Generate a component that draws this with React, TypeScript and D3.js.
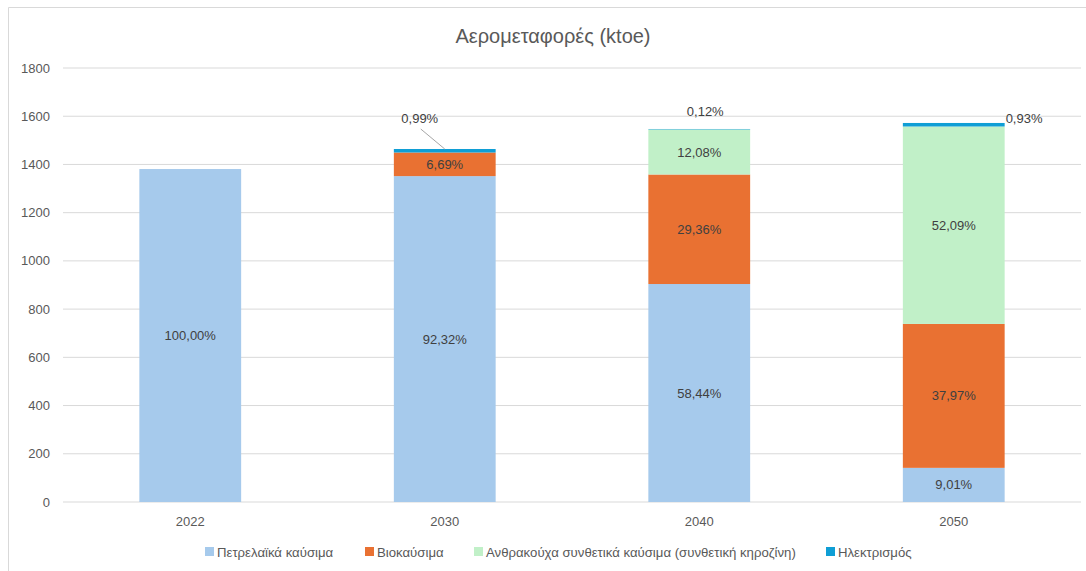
import * as d3 from 'd3';

const years = ['2022', '2030', '2040', '2050'];
const seriesNames = [
    'Πετρελαϊκά καύσιμα',
    'Βιοκαύσιμα',
    'Ανθρακούχα συνθετικά καύσιμα (συνθετική κηροζίνη)',
    'Ηλεκτρισμός',
];
const petroleum = [1381, 1351.6, 904.1, 141.6];
const biofuels = [0, 97.9, 454.2, 596.9];
const synthetic = [0, 0, 186.9, 818.9];
const electricity = [0, 14.5, 1.86, 14.6];
const yTicks = [0, 200, 400, 600, 800, 1000, 1200, 1400, 1600, 1800];

const colors = ['#A6CAEC', '#E97132', '#C1F0C8', '#0F9ED5'];

export default function App() {
    const width = 1086;
    const height = 571;
    const margins = { top: 68, bottom: 69, left: 63, right: 5 };

    const rows = years.map((y, i) => ({
        year: y,
        s0: petroleum[i],
        s1: biofuels[i],
        s2: synthetic[i],
        s3: electricity[i],
    }));
    const keys = ['s0', 's1', 's2', 's3'];
    const stacked = d3.stack<any>().keys(keys)(rows);

    const xScale = d3
        .scaleBand()
        .domain(years)
        .range([margins.left, width - margins.right])
        .paddingInner(0.6)
        .paddingOuter(0.3);

    const yScale = d3
        .scaleLinear()
        .domain([0, 1800])
        .range([height - margins.bottom, margins.top]);

    const fmt = (v: number) => (v * 100).toFixed(2).replace('.', ',') + '%';
    const totals = rows.map((r) => r.s0 + r.s1 + r.s2 + r.s3);
    const font = '"Liberation Sans", Arial, sans-serif';
    const textColor = '#595959';

    return (
        <svg width={width} height={height} style={{ position: 'absolute', left: 0, top: 0 }} fontFamily={font}>
            <rect x={0} y={0} width={width} height={height} fill='#fff' />
            <path d={`M8.5,${height} V7.5 H${width}`} fill='none' stroke='#d9d9d9' />
            <text x={553} y={43} textAnchor='middle' fontSize={20} fill={textColor}>
                Αερομεταφορές (ktoe)
            </text>

            {yTicks.map((t) => (
                <g key={t} transform={`translate(0, ${yScale(t)})`}>
                    <line x1={margins.left} x2={width - margins.right} stroke='#d9d9d9' strokeWidth={1} />
                    <text x={50} dy='0.35em' textAnchor='end' fontSize={13} fill={textColor}>
                        {t}
                    </text>
                </g>
            ))}

            {stacked.map((layer, li) => (
                <g key={li} fill={colors[li]}>
                    {layer.map((d, i) =>
                        d[1] - d[0] > 0 ? (
                            <rect
                                key={i}
                                x={xScale(years[i]) as number}
                                y={yScale(d[1])}
                                width={xScale.bandwidth()}
                                height={yScale(d[0]) - yScale(d[1])}
                            />
                        ) : null
                    )}
                </g>
            ))}

            {/* labels inside segments (big ones) */}
            {stacked.slice(0, 3).map((layer, li) =>
                layer.map((d, i) => {
                    const v = d[1] - d[0];
                    if (v <= 0) return null;
                    const cx = (xScale(years[i]) as number) + xScale.bandwidth() / 2;
                    const cy = (yScale(d[0]) + yScale(d[1])) / 2;
                    return (
                        <text key={`${li}-${i}`} x={cx} y={cy} dy='0.35em' textAnchor='middle' fontSize={13} fill='#404040'>
                            {fmt(v / totals[i])}
                        </text>
                    );
                })
            )}

            {/* electricity labels, placed above the bars */}
            {stacked[3].map((d, i) => {
                const v = d[1] - d[0];
                if (v <= 0) return null;
                const x0 = xScale(years[i]) as number;
                const cx = x0 + xScale.bandwidth() / 2;
                const top = yScale(d[1]);
                const label = fmt(v / totals[i]);
                if (i === 1) {
                    return (
                        <g key={i}>
                            <line x1={cx - 24} y1={top - 20} x2={cx} y2={top} stroke='#a6a6a6' />
                            <text x={cx - 25} y={top - 26} textAnchor='middle' fontSize={13} fill='#404040'>
                                {label}
                            </text>
                        </g>
                    );
                }
                if (i === 2) {
                    return (
                        <text key={i} x={cx + 6} y={top - 13} textAnchor='middle' fontSize={13} fill='#404040'>
                            {label}
                        </text>
                    );
                }
                return (
                    <text key={i} x={x0 + xScale.bandwidth() + 1} y={top} textAnchor='start' fontSize={13} fill='#404040'>
                        {label}
                    </text>
                );
            })}

            {years.map((y) => (
                <text
                    key={y}
                    x={(xScale(y) as number) + xScale.bandwidth() / 2}
                    y={height - margins.bottom + 24}
                    textAnchor='middle'
                    fontSize={13}
                    fill={textColor}
                >
                    {y}
                </text>
            ))}

            {/* legend */}
            {(() => {
                const positions = [205, 365, 474, 826];
                return seriesNames.map((name, i) => (
                    <g key={name} transform={`translate(${positions[i]}, 552)`}>
                        <rect x={0} y={-5} width={9} height={9} fill={colors[i]} />
                        <text x={12} dy='0.35em' fontSize={13.2} fill={textColor}>
                            {name}
                        </text>
                    </g>
                ));
            })()}
        </svg>
    );
}
